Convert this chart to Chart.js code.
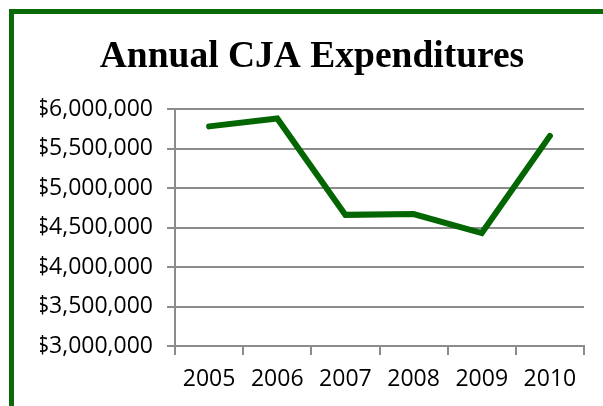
<!DOCTYPE html>
<html>
<head>
<meta charset="utf-8">
<script src="https://cdn.jsdelivr.net/npm/chart.js@4.4.0/dist/chart.umd.min.js"></script>
<style>
  html, body { margin: 0; padding: 0; background: #ffffff; overflow: hidden; }
  #wrap { position: relative; width: 603px; height: 406px; }
  #frame { position: absolute; left: 9px; top: 9px; width: 700px; height: 500px;
           border-left: 5px solid #0a6a0a; border-top: 5px solid #0a6a0a; box-sizing: border-box; }
  canvas { position: absolute; left: 0; top: 0; }
</style>
</head>
<body>
<div id="wrap">
  <div id="frame"></div>
  <canvas id="c" width="603" height="406"></canvas>
</div>
<script>
const chartTitle = "Annual CJA Expenditures";
const years = ["2005", "2006", "2007", "2008", "2009", "2010"];
const expenditures = [5780000, 5880000, 4660000, 4670000, 4430000, 5660000];
const yMin = 3000000;
const yMax = 6000000;
const yStep = 500000;

function money(v) {
  return "$" + Math.round(v).toString().replace(/\B(?=(\d{3})+(?!\d))/g, ",");
}

new Chart(document.getElementById("c"), {
  type: "line",
  data: {
    labels: years,
    datasets: [{
      data: expenditures,
      borderColor: "#036603",
      borderWidth: 6,
      pointRadius: 0,
      fill: false,
      tension: 0,
      borderCapStyle: "round",
      borderJoinStyle: "miter"
    }]
  },
  options: {
    responsive: false,
    animation: false,
    devicePixelRatio: 1,
    layout: { padding: { left: 40, right: 19, top: 0, bottom: 0 } },
    plugins: {
      legend: { display: false },
      tooltip: { enabled: false },
      title: {
        display: true,
        text: chartTitle,
        color: "#000000",
        font: { family: "'Liberation Serif', serif", weight: "bold", size: 37.5 },
        padding: { top: 35, bottom: 29 }
      }
    },
    scales: {
      x: {
        offset: true,
        grid: { display: true, drawOnChartArea: false, drawTicks: true, tickLength: 9, color: "#8c8c8c", lineWidth: 2, offset: true },
        border: { display: true, color: "#8c8c8c", width: 2 },
        ticks: { color: "#000000", font: { family: "'Open Sans', sans-serif", size: 23 }, padding: 11, maxRotation: 0 },
        afterFit: function (s) { s.height = 60; }
      },
      y: {
        min: yMin,
        max: yMax,
        grid: { color: "#8c8c8c", lineWidth: 2, drawTicks: true, tickLength: 8 },
        border: { display: true, color: "#8c8c8c", width: 2 },
        ticks: {
          stepSize: yStep,
          color: "#000000",
          font: { family: "'Open Sans', sans-serif", size: 23 },
          padding: 14,
          callback: function (v) { return money(v); }
        },
        afterFit: function (s) { s.width = 135; }
      }
    }
  }
});
</script>
</body>
</html>
